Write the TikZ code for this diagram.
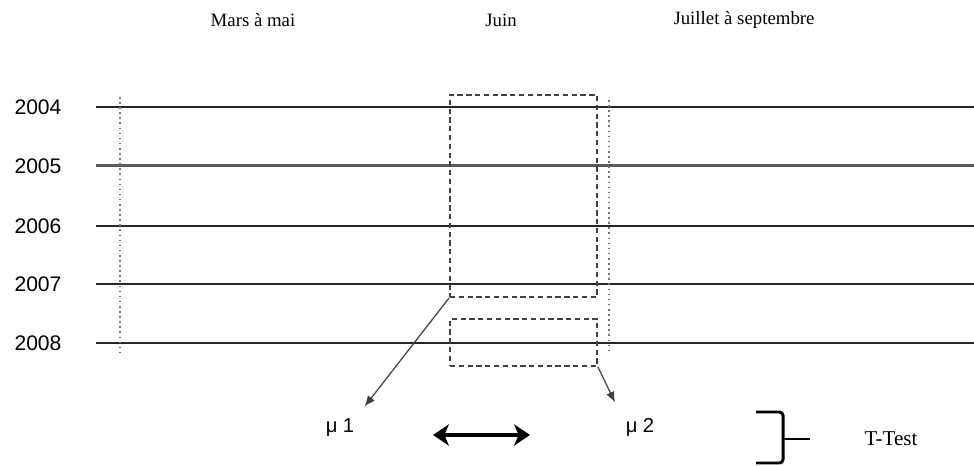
\documentclass[tikz,border=0pt]{standalone}
\usepackage{fontspec}
\setmainfont{Liberation Serif}
\setsansfont{Liberation Sans}
\usepackage{tikz}
\usetikzlibrary{arrows.meta,positioning,fit}

\begin{document}
\begin{tikzpicture}[
        x=0.2mm, y=-0.2mm,
        font=\fontsize{10.7}{12}\selectfont,
        yearlbl/.style={font=\sffamily\fontsize{12}{14}\selectfont},
        meanlbl/.style={font=\sffamily\fontsize{11.5}{14}\selectfont},
        guide/.style={black!55, line width=0.6pt, dash pattern=on 0.9pt off 2pt},
        window/.style={draw=black!75, line width=1pt, dash pattern=on 3pt off 2pt, inner sep=0pt},
        arr/.style={-{Latex[length=6pt,width=5pt]}, black!75, line width=0.7pt},
        cmp/.style={{Stealth[length=9pt,width=12pt,inset=2.5pt]}-{Stealth[length=9pt,width=12pt,inset=2.5pt]}, line width=2pt}
    ]
        \useasboundingbox (0,0) rectangle (974,466);

        % periods
        \node (mars) at (253,20) {Mars à mai};
        \node (juin) at (501,20) {Juin};
        \node (juil) at (744,20) {Juillet à septembre};

        % one line per year
        \foreach \yr/\y/\w/\c in {2004/107/1.4pt/black!85, 2005/166/1.7pt/black!65,
                                   2006/226/1.4pt/black!85, 2007/284/1pt/black!85,
                                   2008/343/1pt/black!85} {
            \node[yearlbl] (y\yr) at (38,\y) {\yr};
            \draw[line width=\w, \c] (96,\y) -- (974,\y);
        }

        \draw[guide] (120,97) -- (120,352);
        \draw[guide] (609,100) -- (609,352);

        % June windows
        \coordinate (j07a) at (450,95);
        \coordinate (j07b) at (597,297);
        \coordinate (j08a) at (450,319);
        \coordinate (j08b) at (597,366);
        \node[window, fit=(j07a)(j07b)] (juin07) {};
        \node[window, fit=(j08a)(j08b)] (juin08) {};

        \node[meanlbl] (mu1) at (340,427) {μ 1};
        \node[meanlbl] (mu2) at (640,427) {μ 2};
        \draw[arr, shorten >=4pt] (juin07.south west) -- (mu1.north east);
        \draw[arr, shorten >=6pt] (juin08.south east) -- (mu2.north west);

        \coordinate (cmpL) at (433,435);
        \coordinate (cmpR) at (530,435);
        \draw[cmp] (cmpL) -- (cmpR);

        % test
        \coordinate (brtip) at (810,439);
        \draw[line width=1.7pt, rounded corners=2pt] (756,412) -- (783,412) -- (783,463) -- (756,463);
        \draw[line width=1.7pt] (783,439) -- (brtip);
        \node[font=\fontsize{12}{14}\selectfont] (ttest) at (891,439) {T-Test};
    \end{tikzpicture}
\end{document}
